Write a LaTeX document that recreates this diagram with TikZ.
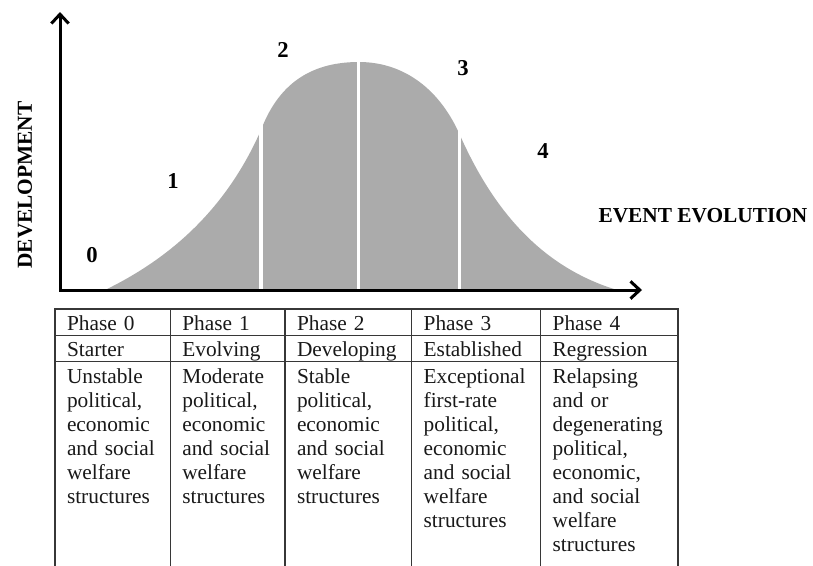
\documentclass[tikz,border=0pt]{standalone}
\usepackage{fontspec}
\setmainfont{Liberation Serif}
\usetikzlibrary{positioning,arrows.meta}
\definecolor{curveGray}{RGB}{171,171,171}
\definecolor{lineGray}{RGB}{55,55,55}

\begin{document}
\begin{tikzpicture}[x=0.75pt, y=-0.75pt,
		axis/.style={line width=2.25pt, line join=miter, {Straight Barb[length=7pt,width=13pt]}-{Straight Barb[length=7pt,width=13pt]}},
		divider/.style={white, line width=2.4pt},
		phaseNum/.style={font=\fontsize{17}{19}\selectfont\bfseries},
		axisLabel/.style={font=\fontsize{16}{18}\selectfont\bfseries},
		cell/.style={rectangle, draw=lineGray, line width=0.9pt, outer sep=0pt, inner xsep=9pt, inner ysep=3.9pt, text height=12pt, text depth=0pt, align=left, font=\fontsize{16}{18}\selectfont, text=black!90},
		bodyCell/.style={cell, text depth=170pt}]

		\path[use as bounding box, clip] (0,0) rectangle (813,565);

		\fill[curveGray] (105,290) .. controls (175,256) and (228,205) .. (261,130) .. controls (280,80) and (315,62) .. (359,62) .. controls (400,62) and (437,85) .. (459,133) .. controls (495,215) and (545,268) .. (617,290) -- cycle;
		\draw[divider] (261,55) -- (261,289);
		\draw[divider] (358.5,55) -- (358.5,289);
		\draw[divider] (459.5,55) -- (459.5,289);

		\coordinate (origin) at (60,290);
		\coordinate (yTip) at (60,12);
		\coordinate (xTip) at (642,290);
		\draw[axis] (yTip) -- (origin) -- (xTip);

		\node[axisLabel, rotate=90](devLabel) at (25,185){DEVELOPMENT};
		\node[axisLabel](eventLabel) at (703,216){EVENT EVOLUTION};

		\node[phaseNum](numZero) at (92,255){0};
		\node[phaseNum](numOne) at (173,181){1};
		\node[phaseNum](numTwo) at (283,50){2};
		\node[phaseNum](numThree) at (463,68){3};
		\node[phaseNum](numFour) at (543,151){4};

		\node[cell, text width=68.5pt, anchor=north west](phaseZero) at (55,309){Phase 0};
		\node[cell, text width=68pt, right=0pt of phaseZero](phaseOne){Phase 1};
		\node[cell, text width=77pt, right=0pt of phaseOne](phaseTwo){Phase 2};
		\node[cell, text width=78.75pt, right=0pt of phaseTwo](phaseThree){Phase 3};
		\node[cell, text width=85pt, right=0pt of phaseThree](phaseFour){Phase 4};

		\node[cell, text width=68.5pt, below=0pt of phaseZero](starter){Starter};
		\node[cell, text width=68pt, below=0pt of phaseOne](evolving){Evolving};
		\node[cell, text width=77pt, below=0pt of phaseTwo](developing){Developing};
		\node[cell, text width=78.75pt, below=0pt of phaseThree](established){Established};
		\node[cell, text width=85pt, below=0pt of phaseFour](regression){Regression};

		\node[bodyCell, text width=68.5pt, below=0pt of starter](starterText){Unstable\\political,\\economic\\and social\\welfare\\structures};
		\node[bodyCell, text width=68pt, below=0pt of evolving](evolvingText){Moderate\\political,\\economic\\and social\\welfare\\structures};
		\node[bodyCell, text width=77pt, below=0pt of developing](developingText){Stable\\political,\\economic\\and social\\welfare\\structures};
		\node[bodyCell, text width=78.75pt, below=0pt of established](establishedText){Exceptional\\first-rate\\political,\\economic\\and social\\welfare\\structures};
		\node[bodyCell, text width=85pt, below=0pt of regression](regressionText){Relapsing\\and or\\degenerating\\political,\\economic,\\and social\\welfare\\structures};
	\end{tikzpicture}
\end{document}
